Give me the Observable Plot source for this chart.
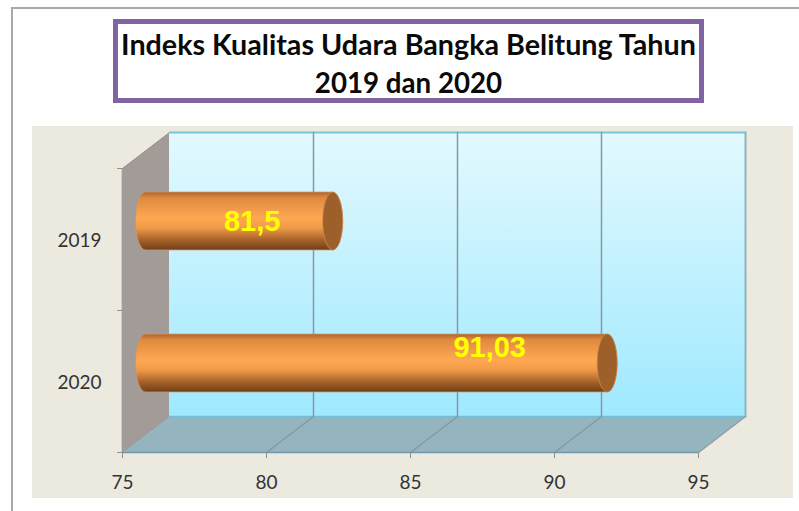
<!DOCTYPE html>
<html>
<head>
<meta charset="utf-8">
<script src="https://cdn.jsdelivr.net/npm/d3@7"></script>
<script src="https://cdn.jsdelivr.net/npm/@observablehq/plot@0.6"></script>
<style>
html,body{margin:0;padding:0;background:#fff;}
#page{position:relative;width:799px;height:511px;overflow:hidden;}
#frame{position:absolute;left:11px;top:7px;right:0;bottom:-5px;border-left:2px solid #a8a8a8;border-top:2px solid #a8a8a8;}
#panel{position:absolute;left:32px;top:126px;width:761px;height:372px;background:#ecE9df;}
#title{position:absolute;left:113px;top:19px;width:581px;height:73px;padding-top:1px;border:5px solid #8064a2;background:#fff;
 font:bold 28.7px/38px Lato,sans-serif;color:#0a0a0a;text-align:center;white-space:nowrap;}
#title span{font-size:27.7px;}
#chart{position:absolute;left:0;top:0;}
</style>
</head>
<body>
<div id="page">
  <div id="frame"></div>
  <div id="panel"></div>
  <div id="title"></div>
  <div id="chart"></div>
</div>
<script>
const titleLines = ["Indeks Kualitas Udara Bangka Belitung Tahun", "2019 dan 2020"];
const years = ["2019", "2020"];
const values = [81.5, 91.03];
const xTicks = [75, 80, 85, 90, 95];
const gridLines = [80, 85, 90];

// depth of the pseudo-3D box, in scale units
const depthX = 1.632, depthY = 0.2535;
const pt = (x, y, d) => ({x: x + depthX * d, y: y - depthY * d});
const yMax = years.length;
const barHalf = 0.204;

const sideWall = [pt(75, 0, 0), pt(75, 0, 1), pt(75, yMax, 1), pt(75, yMax, 0)];
const floor = [pt(75, yMax, 0), pt(95, yMax, 0), pt(95, yMax, 1), pt(75, yMax, 1)];
const bars = years.map((year, i) => {
  const c = pt(values[i], i + 0.5, 0.5);
  const s = pt(75, i + 0.5, 0.5);
  return {year, value: values[i], x1: s.x, x2: c.x, y1: c.y - barHalf, y2: c.y + barHalf, yc: i + 0.5,
          label: String(values[i]).replace(".", ",")};
});
const backWall = [{x1: pt(75, 0, 1).x, x2: pt(95, 0, 1).x, y1: pt(75, 0, 1).y, y2: pt(75, yMax, 1).y}];

const defs = () => {
  const d = d3.create("svg:defs");
  const grad = (id, stops) => {
    const g = d.append("linearGradient").attr("id", id).attr("x1", 0).attr("x2", 0).attr("y1", 0).attr("y2", 1);
    stops.forEach(([o, c]) => g.append("stop").attr("offset", o).attr("stop-color", c));
  };
  grad("wall", [[0, "#e3f9ff"], [1, "#9fe9fe"]]);
  grad("tube", [[0, "#b0652a"], [0.1, "#e08a3f"], [0.45, "#ffa852"], [0.62, "#f09a48"], [0.82, "#a9632a"], [1, "#6f3f17"]]);
  return d.node();
};

const marks = [
  defs,
  Plot.line(sideWall, {x: "x", y: "y", fill: "#a39b97", stroke: "#8f8f8f", strokeWidth: 1, curve: "linear-closed"}),
  Plot.rect(backWall, {x1: "x1", x2: "x2", y1: "y1", y2: "y2", fill: "url(#wall)"}),
  Plot.line([pt(75, 0, 1), pt(95, 0, 1)], {x: "x", y: "y", stroke: "#79c6dc", strokeWidth: 2}),
  Plot.line([pt(95, 0, 1), pt(95, yMax, 1)], {x: "x", y: "y", stroke: "#8cb4c2", strokeWidth: 2}),
  Plot.line(floor, {x: "x", y: "y", fill: "#94b4bf", stroke: "none", curve: "linear-closed"}),
  Plot.line([pt(75, yMax, 1), pt(95, yMax, 1)], {x: "x", y: "y", stroke: "#6fc0d8", strokeWidth: 1.5}),
  Plot.line([pt(75, yMax, 0), pt(95, yMax, 0)], {x: "x", y: "y", stroke: "#7098aa", strokeWidth: 1.5}),
  Plot.line([pt(95, yMax, 0), pt(95, yMax, 1)], {x: "x", y: "y", stroke: "#8f9ea5", strokeWidth: 1.5}),
  ...gridLines.map(v => Plot.line([pt(v, yMax, 0), pt(v, yMax, 1), pt(v, 0, 1)],
      {x: "x", y: "y", stroke: "#8a979e", strokeWidth: 1.5})),
  Plot.ruleY([0, 1, 2], {x1: 74.83, x2: 75, stroke: "#8f8f8f"}),
  Plot.axisX({ticks: xTicks, tickSize: 6, tickPadding: 17, tickFormat: d => String(d), stroke: "#8f8f8f", fill: "#333", fontSize: 19, label: null}),
  Plot.axisY({ticks: [0.5, 1.5], tickSize: 0, tickPadding: 21, dy: 1, tickFormat: d => years[Math.floor(d)], fill: "#333", fontSize: 19, label: null}),
  Plot.rect(bars, {x1: "x1", x2: "x2", y1: "y1", y2: "y2", insetLeft: -10, insetRight: -10, rx: 10, ry: 29,
      fill: "url(#tube)", stroke: "#c79a70", strokeWidth: 0.75}),
  Plot.rect(bars, {x1: "x2", x2: "x2", y1: "y1", y2: "y2", insetLeft: -10, insetRight: -10, rx: 10, ry: 29,
      fill: "#9d602b", stroke: "#c98a50", strokeWidth: 0.75}),
  Plot.text([bars[0]], {x: "x2", y: "yc", text: "label", dx: -81, dy: -18, fill: "#ffff00", fontWeight: "bold", fontSize: 29, fontFamily: "Liberation Sans"}),
  Plot.text([bars[1]], {x: "x2", y: "yc", text: "label", dx: -118, dy: -34, fill: "#ffff00", fontWeight: "bold", fontSize: 29, fontFamily: "Liberation Sans"})
];

const chart = Plot.plot({
  width: 799,
  height: 511,
  marginLeft: 122,
  marginRight: 101,
  marginTop: 168,
  marginBottom: 59,
  style: {background: "transparent", fontFamily: "Lato, sans-serif", overflow: "visible"},
  x: {domain: [75, 95], axis: null},
  y: {domain: [yMax, 0], axis: null},
  marks
});
const titleEl = document.getElementById("title");
titleEl.append(titleLines[0], document.createElement("br"));
const line2 = document.createElement("span");
line2.textContent = titleLines[1];
titleEl.append(line2);
document.getElementById("chart").append(chart);
</script>
</body>
</html>
